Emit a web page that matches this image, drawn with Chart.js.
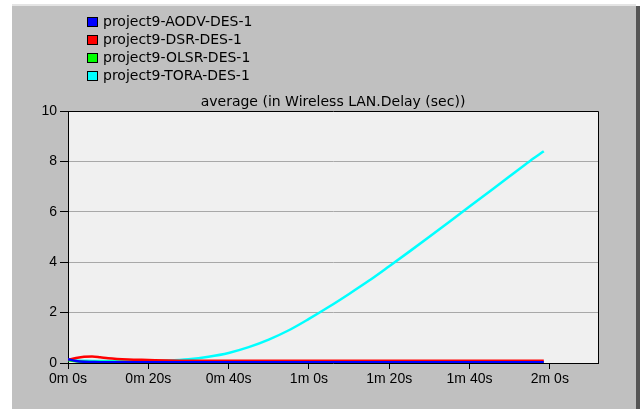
<!DOCTYPE html>
<html>
<head>
<meta charset="utf-8">
<script src="https://cdn.jsdelivr.net/npm/chart.js@4/dist/chart.umd.min.js"></script>
<style>
  html, body { margin: 0; padding: 0; background: #ffffff; }
  #wrap { width: 640px; height: 409px; position: relative; }
</style>
</head>
<body>
<div id="wrap"><canvas id="c" width="640" height="409"></canvas></div>
<script>
// Sample times (seconds) shared by all series
const times = [0, 2, 4, 6, 8, 10, 15, 20, 25, 30, 35, 40, 45, 50, 55, 60, 65, 70, 75, 80, 85, 90, 95, 100, 105, 110, 115, 118.5];

// Average wireless LAN delay (sec) per protocol
const aodvDelay = [0.15, 0.08, 0.05, 0.04, 0.03, 0.03, 0.03, 0.03, 0.03, 0.03, 0.03, 0.03, 0.03, 0.03, 0.03, 0.03, 0.03, 0.03, 0.03, 0.03, 0.03, 0.03, 0.03, 0.03, 0.03, 0.03, 0.03, 0.03];
const dsrDelay  = [0.13, 0.20, 0.25, 0.26, 0.23, 0.19, 0.14, 0.12, 0.10, 0.09, 0.09, 0.09, 0.09, 0.09, 0.09, 0.09, 0.09, 0.09, 0.09, 0.09, 0.09, 0.09, 0.09, 0.09, 0.09, 0.09, 0.09, 0.09];
const olsrDelay = [0.12, 0.07, 0.05, 0.04, 0.04, 0.04, 0.04, 0.04, 0.04, 0.04, 0.04, 0.04, 0.04, 0.04, 0.04, 0.04, 0.04, 0.04, 0.04, 0.04, 0.04, 0.04, 0.04, 0.04, 0.04, 0.04, 0.04, 0.04];
const toraDelay = [0.12, 0.10, 0.09, 0.08, 0.08, 0.08, 0.08, 0.08, 0.10, 0.15, 0.25, 0.40, 0.63, 0.93, 1.30, 1.75, 2.23, 2.74, 3.27, 3.84, 4.42, 5.01, 5.61, 6.21, 6.81, 7.41, 8.01, 8.40];

const seriesNames = ['project9-AODV-DES-1', 'project9-DSR-DES-1', 'project9-OLSR-DES-1', 'project9-TORA-DES-1'];
const seriesColors = ['#0000ff', '#ff0000', '#00ff00', '#00ffff'];
const seriesValues = [aodvDelay, dsrDelay, olsrDelay, toraDelay];

// Axis ticks
const xTickSeconds = [0, 20, 40, 60, 80, 100, 120];
const xTickLabels = ['0m 0s', '0m 20s', '0m 40s', '1m 0s', '1m 20s', '1m 40s', '2m 0s'];
const yTickValues = [0, 2, 4, 6, 8, 10];
const yTickLabels = ['0', '2', '4', '6', '8', '10'];

const chartTitle = 'average (in Wireless LAN.Delay (sec))';

const datasets = seriesNames.map((name, i) => ({
  label: name,
  data: times.map((t, j) => ({ x: t, y: seriesValues[i][j] })),
  borderColor: seriesColors[i],
  backgroundColor: seriesColors[i],
  borderWidth: 2.5,
  pointRadius: 0,
  fill: false,
  cubicInterpolationMode: 'monotone'
}));

// Window frame, plot background, border, title and legend
const framePlugin = {
  id: 'frame',
  beforeDraw(chart) {
    const ctx = chart.ctx;
    const a = chart.chartArea;
    ctx.save();
    ctx.fillStyle = '#ffffff';
    ctx.fillRect(0, 0, chart.width, chart.height);
    ctx.fillStyle = '#e4e4e4';
    ctx.fillRect(12, 4, 624, 2);
    ctx.fillStyle = '#c0c0c0';
    ctx.fillRect(12, 6, 624, chart.height - 6);
    ctx.fillStyle = '#555555';
    ctx.fillRect(636, 6, 4, chart.height - 6);
    ctx.fillStyle = '#f0f0f0';
    ctx.fillRect(a.left, a.top, a.right - a.left, a.bottom - a.top);
    ctx.restore();
  },
  afterDraw(chart) {
    const ctx = chart.ctx;
    const a = chart.chartArea;
    ctx.save();
    // plot border
    ctx.strokeStyle = '#000000';
    ctx.lineWidth = 1;
    ctx.beginPath();
    ctx.moveTo(a.left + 0.5, a.top + 0.5);
    ctx.lineTo(a.right + 0.5, a.top + 0.5);
    ctx.lineTo(a.right + 0.5, a.bottom + 0.5);
    ctx.stroke();
    // title
    ctx.fillStyle = '#000000';
    ctx.font = '14px "DejaVu Sans"';
    ctx.textAlign = 'center';
    ctx.textBaseline = 'alphabetic';
    ctx.fillText(chartTitle, (a.left + a.right) / 2, 106);
    // legend
    ctx.textAlign = 'left';
    ctx.textBaseline = 'middle';
    chart.data.datasets.forEach((ds, i) => {
      const cy = 21.5 + i * 18.2;
      ctx.fillStyle = ds.borderColor;
      ctx.fillRect(87, Math.round(cy - 5), 11, 10);
      ctx.strokeStyle = '#000000';
      ctx.strokeRect(87.5, Math.round(cy - 5) + 0.5, 10, 9);
      ctx.fillStyle = '#000000';
      ctx.fillText(ds.label, 103, cy + 0.5);
    });
    ctx.restore();
  }
};

new Chart(document.getElementById('c'), {
  type: 'line',
  data: { datasets },
  options: {
    responsive: false,
    animation: false,
    events: [],
    layout: { padding: { left: 0, right: 42, top: 111, bottom: 0 } },
    plugins: { legend: { display: false }, title: { display: false }, tooltip: { enabled: false } },
    scales: {
      x: {
        type: 'linear',
        min: 0,
        max: 132,
        afterFit(s) { s.height = 46; },
        afterBuildTicks(s) { s.ticks = xTickSeconds.map(v => ({ value: v })); },
        grid: { display: true, drawOnChartArea: false, drawTicks: true, tickLength: 6, color: '#000000', tickColor: '#000000' },
        border: { display: true, color: '#000000', width: 1 },
        ticks: {
          autoSkip: false,
          maxRotation: 0,
          padding: 2,
          color: '#000000',
          font: { family: 'Liberation Sans', size: 14 },
          callback: (v, i) => xTickLabels[i]
        }
      },
      y: {
        type: 'linear',
        min: 0,
        max: 10,
        afterFit(s) { s.width = 68; },
        afterBuildTicks(s) { s.ticks = yTickValues.map(v => ({ value: v })); },
        grid: {
          drawOnChartArea: true,
          drawTicks: true,
          tickLength: 8,
          tickColor: '#000000',
          color: (c) => (c.tick && (c.tick.value === 0 || c.tick.value === 10)) ? 'rgba(0,0,0,0)' : '#a8a8a8'
        },
        border: { display: true, color: '#000000', width: 1 },
        ticks: {
          padding: 3,
          color: '#000000',
          font: { family: 'Liberation Sans', size: 14 },
          callback: (v, i) => yTickLabels[i]
        }
      }
    }
  },
  plugins: [framePlugin]
});
</script>
</body>
</html>
